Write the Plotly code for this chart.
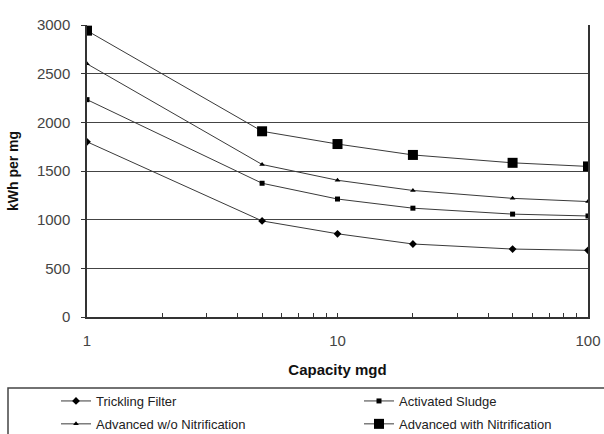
import plotly.graph_objects as go

capacity = [1, 5, 10, 20, 50, 100]
trickling_filter = [1800, 987, 855, 750, 698, 685]
activated_sludge = [2233, 1374, 1212, 1118, 1057, 1038]
advanced_wo_nitr = [2601, 1567, 1405, 1300, 1219, 1186]
advanced_with_nitr = [2942, 1908, 1777, 1665, 1584, 1547]

series_names = ["Trickling Filter", "Activated Sludge",
                "Advanced w/o Nitrification", "Advanced with Nitrification"]
series_values = [trickling_filter, activated_sludge, advanced_wo_nitr, advanced_with_nitr]
symbols = ["diamond", "square", "triangle-up", "square"]
sizes = [6, 5, 5, 10]
legend_ids = ["legend", "legend2", "legend", "legend2"]

fig = go.Figure()
for name, vals, sym, sz, lg in zip(series_names, series_values, symbols, sizes, legend_ids):
    fig.add_trace(go.Scatter(
        x=capacity, y=vals, name=name, mode="lines+markers",
        line=dict(color="#3a3a3a", width=1),
        marker=dict(symbol=sym, size=sz, color="black"),
        legend=lg, legendgroup=name,
    ))

W, H = 604, 434
L, T = 87, 25
R = W - 588
B = H - 317
pw = W - L - R
ph = H - T - B

minor_vals = [v * d for d in (1, 10) for v in range(2, 10)]

def px_x(s):  # screen x -> paper
    return (s - L) / pw

def px_y(s):  # screen y -> paper
    return (H - B - s) / ph

legend_common = dict(
    orientation="v", xanchor="left", yanchor="top",
    xref="paper", yref="paper",
    font=dict(size=13, color="#222"),
    bgcolor="rgba(0,0,0,0)", borderwidth=0,
    tracegroupgap=3, traceorder="grouped",
)

fig.update_layout(
    width=W, height=H,
    margin=dict(l=L, r=R, t=T, b=B, autoexpand=False),
    paper_bgcolor="white", plot_bgcolor="white",
    font=dict(family="Liberation Sans, Arial, sans-serif", color="#333"),
    showlegend=True,
    legend=dict(x=px_x(56), y=px_y(386), **legend_common),
    legend2=dict(x=px_x(359), y=px_y(386), **legend_common),
    xaxis=dict(
        type="log", range=[0, 2],
        tickvals=[1, 10, 100], ticktext=["1", "10", "100"],
        ticks="inside", ticklen=4, tickcolor="#333",
        minor=dict(tickvals=minor_vals, ticks="inside", ticklen=4, tickcolor="#333", showgrid=False),
        showgrid=False, zeroline=False,
        showline=True, linecolor="#333", linewidth=1.5,
        tickfont=dict(size=15, color="#444"),
        ticklabelstandoff=9, ticklabeloverflow="allow",
        title=dict(text="<b>Capacity mgd</b>", font=dict(size=15, color="#111"), standoff=17),
    ),
    yaxis=dict(
        range=[0, 3000], dtick=500,
        ticks="outside", ticklen=4, tickcolor="#333",
        showgrid=True, gridcolor="#444", gridwidth=1,
        zeroline=False,
        showline=True, linecolor="#333", linewidth=1.5, mirror=True,
        tickfont=dict(size=15, color="#444"),
        ticklabelstandoff=8,
        title=dict(text="<b>kWh per mg</b>", font=dict(size=14, color="#111"), standoff=15),
    ),
    shapes=[dict(
        type="rect", xref="paper", yref="paper",
        x0=px_x(8), x1=px_x(640),
        y0=px_y(470), y1=px_y(388),
        line=dict(color="#444", width=1.5), fillcolor="rgba(0,0,0,0)",
    )],
)

fig.write_html(
    "out.html",
    config={"displayModeBar": False},
    post_script="document.body.style.margin='0';document.body.style.overflow='hidden';",
)
